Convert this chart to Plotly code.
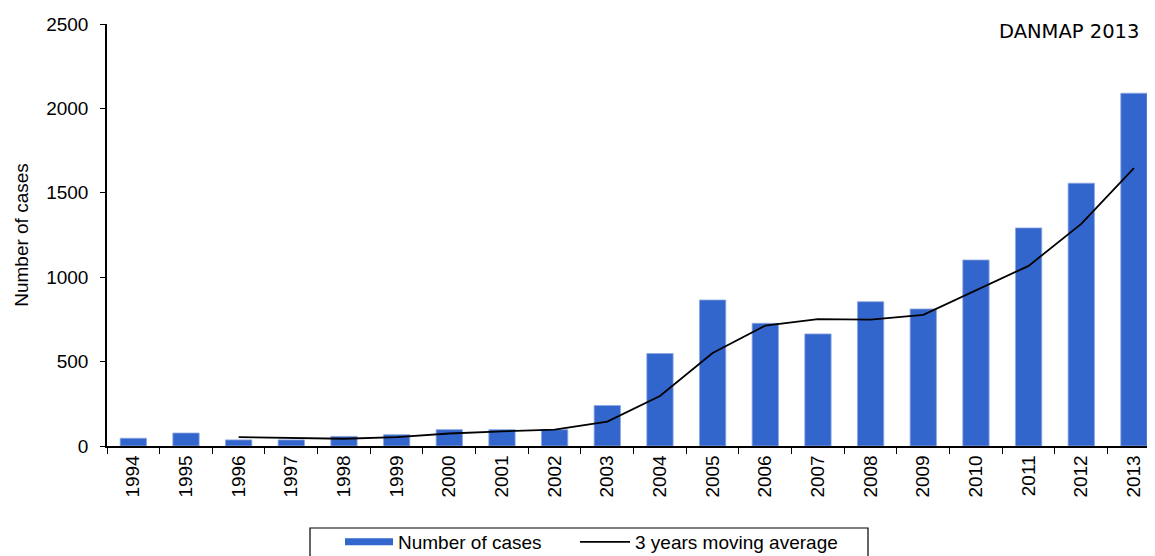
import plotly.graph_objects as go

years = [str(y) for y in range(1994, 2014)]
cases = [46, 77, 36, 36, 57, 67, 97, 97, 97, 240, 548, 865, 727, 664, 855, 812, 1102, 1292, 1557, 2090]
ma_years = [str(y) for y in range(1996, 2014)]
moving_avg = [53, 50, 43, 53, 74, 87, 97, 145, 296, 551, 713, 752, 749, 777, 922, 1067, 1316, 1646]

BLUE = "#3366CC"
FONT = "Liberation Sans, Arial, sans-serif"

# plot area in window pixels: x 107..1155, y 24..446
PX0, PW, PY0, PH = 107, 1048, 446, 422
def px(x):
    return (x - PX0) / PW
def py(y):
    return (PY0 - y) / PH

fig = go.Figure()
fig.add_trace(go.Bar(x=years, y=cases, name="Number of cases", width=0.5,
                     marker=dict(color=BLUE, line=dict(color="#8FA8E0", width=0.8)),
                     showlegend=False))
fig.add_trace(go.Scatter(x=[None], y=[None], mode="lines", name="Number of cases",
                         line=dict(color=BLUE, width=7), legend="legend"))
fig.add_trace(go.Scatter(x=ma_years, y=moving_avg, mode="lines", name="3 years moving average",
                         line=dict(color="black", width=1.8), legend="legend2"))

fig.update_layout(
    width=1155, height=556,
    margin=dict(l=99, r=8, t=16, b=118, autoexpand=False),
    plot_bgcolor="white", paper_bgcolor="white",
    font=dict(family=FONT, size=19, color="black"),
    xaxis=dict(type="category", range=[-0.5, 19.4], tickangle=-90,
               tickmode="array", tickvals=years, ticktext=years,
               ticks="outside", ticklen=6, tickcolor="black", tickson="boundaries",
               showline=True, linecolor="black", linewidth=1.5, showgrid=False,
               tickfont=dict(size=19)),
    yaxis=dict(range=[0, 2500], dtick=500, ticks="outside", ticklen=5, tickcolor="black",
               showline=True, linecolor="black", linewidth=1.5, showgrid=False, zeroline=False,
               ticklabelstandoff=8,
               title=dict(text="Number of cases", standoff=13, font=dict(size=19))),
    legend=dict(orientation="h", x=px(340), xanchor="left", y=py(523), yanchor="top",
                borderwidth=0, bgcolor="rgba(0,0,0,0)", font=dict(size=19), itemwidth=48),
    legend2=dict(orientation="h", x=px(575), xanchor="left", y=py(523), yanchor="top",
                 borderwidth=0, bgcolor="rgba(0,0,0,0)", font=dict(size=19), itemwidth=50),
    shapes=[dict(type="rect", xref="paper", yref="paper", x0=px(310), x1=px(868),
                 y0=py(528), y1=py(570), line=dict(color="black", width=1.2),
                 fillcolor="rgba(0,0,0,0)", layer="below")],
    annotations=[dict(text="DANMAP 2013", xref="paper", yref="paper", x=0.987, y=0.983,
                      xanchor="right", yanchor="middle", showarrow=False,
                      font=dict(family="DejaVu Sans, Verdana, sans-serif", size=19.5, color="black"))],
)

fig.write_html("out.html")
